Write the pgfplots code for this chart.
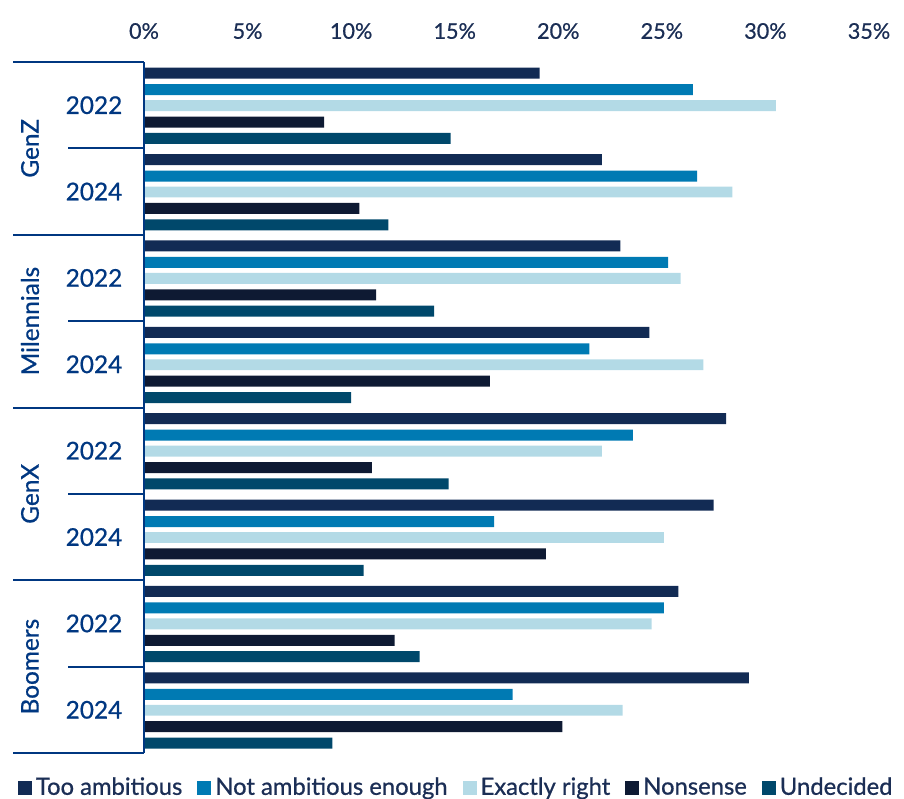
\documentclass[border=0pt]{standalone}
\usepackage{fontspec}
\setmainfont{Lato}
\newfontfamily\medfont{Lato}[FakeBold=0.7]
\usepackage{pgfplots}
\pgfplotsset{compat=1.18}
\usepackage{pgfplotstable}

\definecolor{cTA}{HTML}{122B54}
\definecolor{cNA}{HTML}{007AB3}
\definecolor{cER}{HTML}{B3DAE6}
\definecolor{cNS}{HTML}{0E1A33}
\definecolor{cUD}{HTML}{00486B}
\definecolor{txt}{HTML}{1B2E55}
\definecolor{lab}{HTML}{003781}

% y: 0 = GenZ 2022, 1 = GenZ 2024, ... 7 = Boomers 2024
\pgfplotstableread{
y ta   na   er   ns   ud
0 19.1 26.5 30.5 8.7  14.8
1 22.1 26.7 28.4 10.4 11.8
2 23.0 25.3 25.9 11.2 14.0
3 24.4 21.5 27.0 16.7 10.0
4 28.1 23.6 22.1 11.0 14.7
5 27.5 16.9 25.1 19.4 10.6
6 25.8 25.1 24.5 12.1 13.3
7 29.2 17.8 23.1 20.2 9.1
}\data

\begin{document}
\begin{tikzpicture}
\begin{axis}[
  scale only axis,
  width=362.5pt, height=345.5pt,
  xbar, bar width=0.127,
  legend image code/.code={\fill[#1] (0pt,-3.5pt) rectangle (7pt,3.5pt);},
  xmin=0, xmax=35, ymin=-0.5, ymax=7.5,
  y dir=reverse,
  enlargelimits=false,
  clip=false,
  axis line style={draw=none},
  major tick length=0pt,
  ytick=\empty,
  xtick={0,5,...,35},
  xticklabel pos=upper,
  xticklabel={\pgfmathprintnumber{\tick}\%},
  /pgf/number format/assume math mode=true,
  xticklabel style={font=\medfont\fontsize{10.8}{12}\selectfont, text=txt, yshift=8pt},
  legend style={draw=none, at={(0.432,-0.05)}, anchor=center,
    font=\medfont\fontsize{11.9}{14}\selectfont, text=txt, inner sep=0pt,
    /tikz/every even column/.append style={column sep=5.5pt}},
  legend cell align=left,
  legend columns=-1,
]
\addplot[fill=cTA, draw=none, bar shift=-0.37] table[x=ta, y=y] {\data};
\addplot[fill=cNA, draw=none, bar shift=-0.18] table[x=na, y=y] {\data};
\addplot[fill=cER, draw=none, bar shift=0.005] table[x=er, y=y] {\data};
\addplot[fill=cNS, draw=none, bar shift=0.195] table[x=ns, y=y] {\data};
\addplot[fill=cUD, draw=none, bar shift=0.385] table[x=ud, y=y] {\data};
\legend{Too ambitious, Not ambitious enough, Exactly right, Nonsense, Undecided}

% left axis and separators
\draw[lab, line width=1pt] (axis cs:0,-0.5) -- (axis cs:0,7.5);
\draw[lab, line width=1pt] (axis cs:0,-0.5) -- ++(-65.5pt,0pt);
\draw[lab, line width=1pt] (axis cs:0,1.5) -- ++(-65.5pt,0pt);
\draw[lab, line width=1pt] (axis cs:0,3.5) -- ++(-65.5pt,0pt);
\draw[lab, line width=1pt] (axis cs:0,5.5) -- ++(-65.5pt,0pt);
\draw[lab, line width=1pt] (axis cs:0,7.5) -- ++(-65.5pt,0pt);
\draw[lab, line width=1pt] (axis cs:0,0.5) -- ++(-38pt,0pt);
\draw[lab, line width=1pt] (axis cs:0,2.5) -- ++(-38pt,0pt);
\draw[lab, line width=1pt] (axis cs:0,4.5) -- ++(-38pt,0pt);
\draw[lab, line width=1pt] (axis cs:0,6.5) -- ++(-38pt,0pt);

% year labels
\tikzset{yr/.style={lab, font=\medfont\fontsize{12.2}{14}\selectfont, xshift=-25pt}}
\node[yr] at (axis cs:0,0) {2022};
\node[yr] at (axis cs:0,1) {2024};
\node[yr] at (axis cs:0,2) {2022};
\node[yr] at (axis cs:0,3) {2024};
\node[yr] at (axis cs:0,4) {2022};
\node[yr] at (axis cs:0,5) {2024};
\node[yr] at (axis cs:0,6) {2022};
\node[yr] at (axis cs:0,7) {2024};

% generation labels
\tikzset{gen/.style={lab, font=\medfont\fontsize{12.2}{14}\selectfont, rotate=90}}
\node[gen] at ([xshift=-57pt]axis cs:0,0.5) {GenZ};
\node[gen] at ([xshift=-57pt]axis cs:0,2.5) {Milennials};
\node[gen] at ([xshift=-57pt]axis cs:0,4.5) {GenX};
\node[gen] at ([xshift=-57pt]axis cs:0,6.5) {Boomers};

\coordinate (TL) at (axis cs:0,-0.5);
\end{axis}
\pgfresetboundingbox
\path (TL) ++(-72pt,31pt) rectangle ++(452pt,-399pt);
\end{tikzpicture}
\end{document}
